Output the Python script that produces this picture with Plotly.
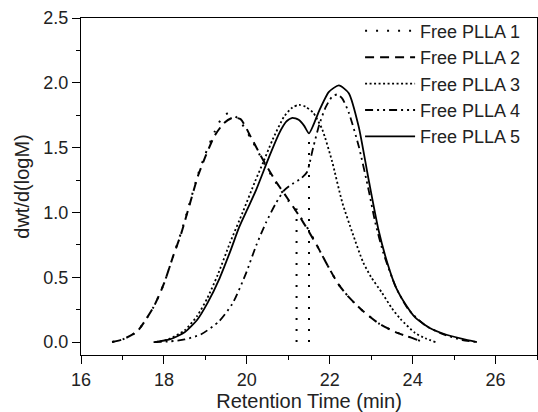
import plotly.graph_objects as go

# ---- data ----
x_plla1 = [16.75, 17.0, 17.35, 17.75, 18.0, 18.22, 18.42, 18.62, 18.82, 19.0, 19.22, 19.4, 19.58, 19.8,
           20.1, 20.4, 20.7, 21.0, 21.2, 21.5, 21.7, 21.9, 22.2, 22.45, 22.8, 23.2, 23.6, 24.0, 24.25,
           None, 21.2, 21.2, None, 21.5, 21.5]
y_plla1 = [0.0, 0.02, 0.08, 0.27, 0.45, 0.66, 0.85, 1.07, 1.29, 1.45, 1.62, 1.73, 1.77, 1.72,
           1.57, 1.39, 1.23, 1.09, 1.01, 0.86, 0.74, 0.62, 0.45, 0.35, 0.24, 0.14, 0.075, 0.03, 0.0,
           None, 0.0, 1.03, None, 0.0, 1.61]

x_plla2 = [16.75, 17.0, 17.35, 17.75, 18.0, 18.22, 18.42, 18.62, 18.82, 19.0, 19.22, 19.45, 19.65, 19.85,
           20.1, 20.4, 20.7, 21.0, 21.25, 21.5, 21.7, 21.9, 22.2, 22.45, 22.8, 23.2, 23.6, 24.0, 24.25]
y_plla2 = [0.0, 0.02, 0.08, 0.27, 0.45, 0.66, 0.84, 1.06, 1.28, 1.43, 1.59, 1.69, 1.73, 1.72,
           1.58, 1.40, 1.24, 1.10, 0.98, 0.85, 0.74, 0.62, 0.45, 0.35, 0.24, 0.14, 0.075, 0.03, 0.0]

x_plla3 = [17.8, 18.1, 18.5, 18.8, 19.05, 19.3, 19.6, 19.9, 20.2, 20.4, 20.62, 20.9, 21.1, 21.26, 21.42,
           21.6, 21.82, 22.06, 22.3, 22.55, 22.8, 23.0, 23.26, 23.5, 23.7, 24.06, 24.3, 24.55]
y_plla3 = [0.0, 0.02, 0.09, 0.2, 0.34, 0.52, 0.77, 1.0, 1.24, 1.39, 1.56, 1.74, 1.81, 1.83, 1.815,
           1.77, 1.64, 1.39, 1.08, 0.84, 0.62, 0.5, 0.38, 0.26, 0.18, 0.07, 0.03, 0.0]

x_plla4 = [17.75, 18.14, 18.5, 18.9, 19.33, 19.66, 19.98, 20.22, 20.46, 20.7, 20.9, 21.1, 21.3, 21.45,
           21.6, 21.75, 21.9, 22.05, 22.18, 22.3, 22.46, 22.7, 22.94, 23.1, 23.3, 23.6, 23.9, 24.3,
           24.7, 25.2, 25.55]
y_plla4 = [0.0, 0.005, 0.02, 0.06, 0.16, 0.3, 0.53, 0.74, 0.92, 1.07, 1.17, 1.22, 1.26, 1.31,
           1.50, 1.68, 1.81, 1.89, 1.91, 1.88, 1.77, 1.51, 1.17, 0.92, 0.68, 0.42, 0.25, 0.13,
           0.065, 0.015, 0.0]

x_plla5 = [17.78, 18.14, 18.5, 18.8, 19.05, 19.34, 19.6, 19.82, 20.02, 20.22, 20.54, 20.78, 20.95, 21.1,
           21.25, 21.38, 21.5, 21.6, 21.74, 21.98, 22.22, 22.46, 22.7, 22.94, 23.18, 23.4, 23.6,
           23.85, 24.06, 24.4, 24.78, 25.2, 25.55]
y_plla5 = [0.0, 0.02, 0.075, 0.17, 0.3, 0.49, 0.7, 0.89, 1.03, 1.17, 1.43, 1.61, 1.7, 1.73,
           1.715, 1.67, 1.61, 1.67, 1.78, 1.93, 1.98, 1.92, 1.66, 1.25, 0.86, 0.6, 0.42,
           0.28, 0.19, 0.11, 0.06, 0.025, 0.0]

names = ["Free PLLA 1", "Free PLLA 2", "Free PLLA 3", "Free PLLA 4", "Free PLLA 5"]
x_tick_vals = [16, 18, 20, 22, 24, 26]
y_tick_vals = [0.0, 0.5, 1.0, 1.5, 2.0, 2.5]

series = [
    (x_plla1, y_plla1, "2px,9px", 2.0),
    (x_plla2, y_plla2, "9px,6px", 2.0),
    (x_plla3, y_plla3, "2px,2.5px", 1.8),
    (x_plla4, y_plla4, "8px,4px,2px,4px,2px,4px", 1.8),
    (x_plla5, y_plla5, "solid", 1.8),
]

FONT = "Liberation Sans, Arial, Helvetica, sans-serif"

fig = go.Figure()
for (xs, ys, dash, w), nm in zip(series, names):
    fig.add_trace(go.Scatter(
        x=xs, y=ys, name=nm, mode="lines",
        line=dict(color="black", width=w, dash=dash, shape="spline", smoothing=0.6),
        connectgaps=False,
    ))

axis_common = dict(
    showline=True, linecolor="black", linewidth=1.3, mirror=True,
    ticks="outside", ticklen=8, tickwidth=1.2, tickcolor="black",
    showgrid=False, zeroline=False,
    tickfont=dict(family=FONT, size=18, color="#222"),
)

fig.update_layout(
    width=538, height=412,
    margin=dict(l=81, r=1, t=18, b=57, pad=0, autoexpand=False),
    paper_bgcolor="white", plot_bgcolor="white",
    font=dict(family=FONT, color="#222"),
    xaxis=dict(range=[16, 27], tickvals=x_tick_vals, automargin=False,
               minor=dict(dtick=1, ticks="outside", ticklen=4, tickcolor="black", tickwidth=1),
               title=dict(text="Retention Time (min)", font=dict(family=FONT, size=20), standoff=6),
               **axis_common),
    yaxis=dict(range=[-0.1, 2.5], tickvals=y_tick_vals, tickformat=".1f", automargin=False,
               minor=dict(dtick=0.25, tick0=0, ticks="outside", ticklen=4, tickcolor="black", tickwidth=1),
               title=dict(text="dwt/d(logM)", font=dict(family=FONT, size=20), standoff=8),
               **axis_common),
    showlegend=True,
    legend=dict(x=0.612, y=1.016, xanchor="left", yanchor="top",
                bgcolor="rgba(0,0,0,0)", borderwidth=0,
                font=dict(family=FONT, size=18, color="#222"),
                itemwidth=50, tracegroupgap=0),
)

fig.write_html(
    "out.html",
    config={"displayModeBar": False},
    post_script="document.body.style.margin='0';document.body.style.padding='0';",
)
